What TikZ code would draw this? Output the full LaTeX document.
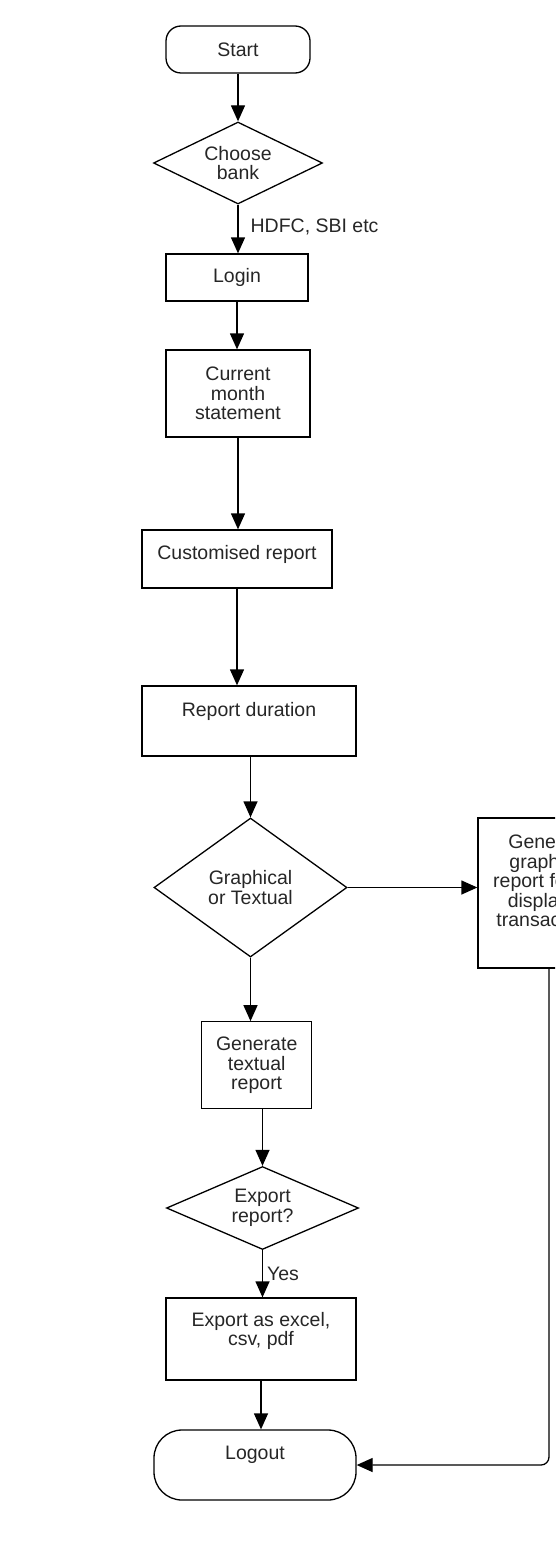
\documentclass[tikz,border=0pt]{standalone}
\usepackage{fontspec}
\setmainfont{Liberation Sans}
\usepackage{tikz}
\usetikzlibrary{arrows.meta}
\usetikzlibrary{shapes.geometric}
\tikzset{
    >={Triangle[length=16pt, width=14pt]},
    flow/.style={draw=black, line width=1.3pt, align=center},
    term/.style={flow, shape=rectangle, rounded corners=#1},
    box/.style={flow, shape=rectangle},
    choice/.style={flow, shape=diamond, inner sep=0pt}}

\begin{document}
\begin{tikzpicture}[x=1pt, y=-1pt, line width=1.3pt, text=black!85,
    font=\fontsize{19.5}{19.5}\selectfont]

            \useasboundingbox (0,0) rectangle (555,1549);
            \clip (0,0) rectangle (555,1549);

            \node[term=15pt, minimum width=144, minimum height=47] (A) at (238,49.5) {Start};
            \node[choice, shape aspect=2, minimum width=169, minimum height=82] (B) at (238,163) {Choose\\bank};
            \node[box, minimum width=142, minimum height=47] (C) at (237,277.5) {Login};
            \node[box, minimum width=144, minimum height=87] (D) at (238,393.5) {Current\\month\\statement};
            \node[box, minimum width=190, minimum height=58, label={[yshift=5]center:Customised report}] (E) at (237,559) {};
            \node[box, minimum width=214, minimum height=70, label={[yshift=10]center:Report duration}] (F) at (249,721) {};
            \node[choice, shape aspect=1.4, minimum width=193, minimum height=139] (G) at (250.5,887.5) {Graphical\\or Textual};
            \node[box, minimum width=142, minimum height=150, label={[align=center, yshift=12]center:{Generate\\graphical\\report for the\\displayed\\transactions}}] (H) at (549,893) {};
            \node[box, minimum width=110, minimum height=87] (I) at (256.7,1065.3) {Generate\\textual\\report};
            \node[choice, shape aspect=2.3, minimum width=192, minimum height=83] (J) at (262.5,1208) {Export\\report?};
            \node[box, minimum width=190, minimum height=82, label={[align=center, yshift=8]center:{Export as excel,\\csv, pdf}}] (K) at (261,1339) {};
            \node[term=28pt, minimum width=202, minimum height=70, label={[yshift=10]center:Logout}] (L) at (255,1465) {};

            \draw[->] (A) -- (B);
            \draw[->] (B.south) -- (B.south |- C.north) node[pos=0.45, right=12pt, inner sep=0pt] {HDFC, SBI etc};
            \draw[->] (C.south) -- (C.south |- D.north);
            \draw[->] (D.south) -- (D.south |- E.north);
            \draw[->] (E.south) -- (E.south |- F.north);
            \draw[->] (F.south -| G.north) -- (G.north);
            \draw[->] (G.east) -- (G.east -| H.west);
            \draw[->] (G.south) -- (G.south |- I.north);
            \draw[->] (J.north |- I.south) -- (J.north);
            \draw[->] (J.south) -- (J.south |- K.north) node[midway, right=4pt, inner sep=0pt] {Yes};
            \draw[->] (K.south) -- (K.south |- L.north);
            \draw[->, rounded corners=8pt] (H.south) |- (L.east);

        \end{tikzpicture}
\end{document}
